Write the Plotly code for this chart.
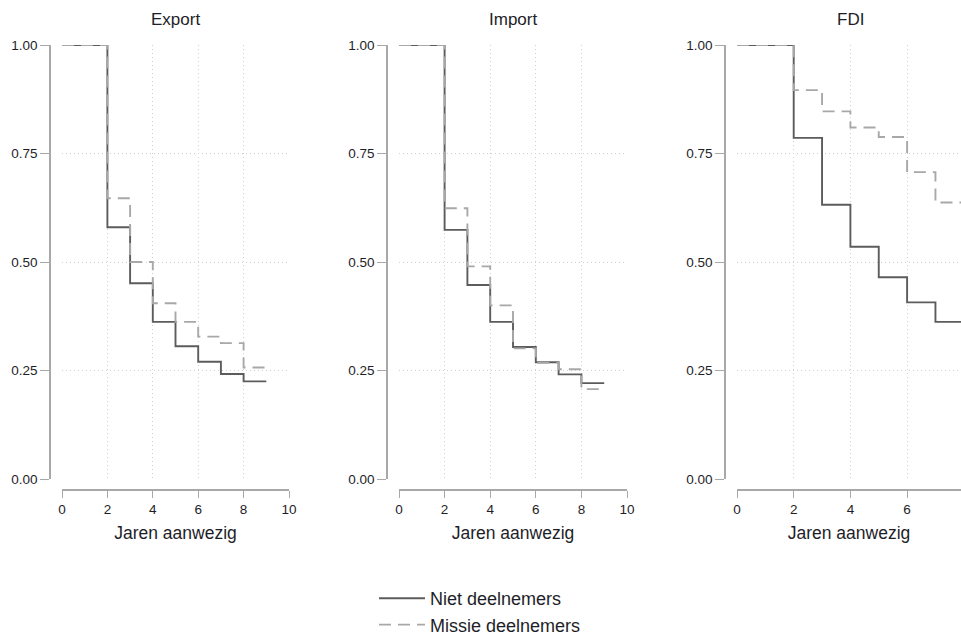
import plotly.graph_objects as go

W, H = 961, 637

years = [0, 1, 2, 3, 4, 5, 6, 7, 8, 9]
panels = ["Export", "Import", "FDI"]

export_niet = [1.0, 1.0, 0.580, 0.451, 0.362, 0.306, 0.270, 0.242, 0.225, 0.225]
export_missie = [1.0, 1.0, 0.647, 0.500, 0.405, 0.362, 0.328, 0.313, 0.257, 0.257]
import_niet = [1.0, 1.0, 0.574, 0.447, 0.362, 0.304, 0.269, 0.241, 0.221, 0.221]
import_missie = [1.0, 1.0, 0.624, 0.490, 0.400, 0.301, 0.268, 0.253, 0.207, 0.207]
fdi_years = [0, 1, 2, 3, 4, 5, 6, 7, 8]
fdi_niet = [1.0, 1.0, 0.786, 0.632, 0.535, 0.465, 0.407, 0.362, 0.362]
fdi_missie = [1.0, 1.0, 0.896, 0.847, 0.810, 0.788, 0.707, 0.637, 0.637]

series_names = ["Niet deelnemers", "Missie deelnemers"]
x_tick_vals = [0, 2, 4, 6, 8, 10]
y_tick_vals = [0, 0.25, 0.5, 0.75, 1.0]
x_title = "Jaren aanwezig"

data = [
    (years, export_niet, export_missie),
    (years, import_niet, import_missie),
    (fdi_years, fdi_niet, fdi_missie),
]

# pixel geometry
x_pix = [(62, 289), (399, 627), (737, 961)]
x_ranges = [[0, 10], [0, 10], [0, (961 - 737) / 28.35]]
yaxis_pos_pix = [50, 387, 725]
y_top, y_bot = 45, 479
xaxis_line_pix = 490

def px(v):
    return v / W

def py(v):
    return 1 - v / H

solid_col = "#5c5c5c"
dash_col = "#a8a8a8"
axis_col = "#a8a8a8"
grid_col = "#cfcfcf"
text_col = "#1e1e28"
font_fam = "Liberation Sans, Arial, sans-serif"

fig = go.Figure()
layout = dict(
    autosize=True,
    margin=dict(l=0, r=0, t=0, b=0, autoexpand=False),
    paper_bgcolor="white", plot_bgcolor="white",
    font=dict(family=font_fam, color=text_col),
    showlegend=True,
    legend=dict(
        x=px(374), xanchor="left", y=py(580), yanchor="top",
        orientation="v", font=dict(size=18, color=text_col),
        bgcolor="rgba(0,0,0,0)", tracegroupgap=0, itemwidth=46,
    ),
)

annotations = []
for i, (xs, niet, missie) in enumerate(data):
    sfx = "" if i == 0 else str(i + 1)
    xa = "x" + sfx
    ya = "y" + sfx
    fig.add_trace(go.Scatter(
        x=xs, y=niet, mode="lines", line=dict(color=solid_col, width=1.9, shape="hv"),
        name=series_names[0], showlegend=(i == 0), xaxis=xa, yaxis=ya,
        cliponaxis=True))
    fig.add_trace(go.Scatter(
        x=xs, y=missie, mode="lines", line=dict(color=dash_col, width=1.9, shape="hv", dash="12px,7px"),
        name=series_names[1], showlegend=(i == 0), xaxis=xa, yaxis=ya,
        cliponaxis=True))
    x0, x1 = x_pix[i]
    layout["xaxis" + sfx] = dict(
        domain=[px(x0), px(x1)], range=x_ranges[i],
        anchor="free", position=py(xaxis_line_pix),
        tickvals=x_tick_vals, ticks="outside", ticklen=7, tickcolor=axis_col,
        showline=True, linecolor=axis_col, linewidth=1.6,
        showgrid=True, gridcolor=grid_col, griddash="1px,3px", gridwidth=1,
        zeroline=False, tickfont=dict(size=13.5, color=text_col),
        title=dict(text=x_title, font=dict(size=17.5, color=text_col), standoff=10),
    )
    layout["yaxis" + sfx] = dict(
        domain=[py(y_bot), py(y_top)], range=[0, 1],
        anchor="free", position=px(yaxis_pos_pix[i]),
        tickvals=y_tick_vals, tickformat=".2f", ticks="outside", ticklen=9, tickcolor=axis_col,
        showline=True, linecolor=axis_col, linewidth=1.6,
        showgrid=True, gridcolor=grid_col, griddash="1px,3px", gridwidth=1,
        zeroline=False, tickfont=dict(size=13.5, color=text_col),
    )
    annotations.append(dict(
        text=panels[i], x=(px(x0) + px(x0 + 227)) / 2, y=py(20),
        xref="paper", yref="paper", showarrow=False,
        font=dict(size=17, color=text_col), xanchor="center", yanchor="middle"))

layout["annotations"] = annotations
fig.update_layout(**layout)
post = (
    "document.documentElement.style.height='100%';"
    "document.documentElement.style.margin='0px';"
    "document.body.style.height='100%';"
    "document.body.style.margin='0px';"
    "document.body.style.overflow='hidden';"
    "var gd=document.getElementById('{plot_id}');"
    "gd.style.width='100vw';gd.style.height='100vh';"
    "Plotly.Plots.resize(gd);"
)
fig.write_html("out.html", config={"displayModeBar": False, "responsive": True},
               default_width="100vw", default_height="100vh", post_script=post)
